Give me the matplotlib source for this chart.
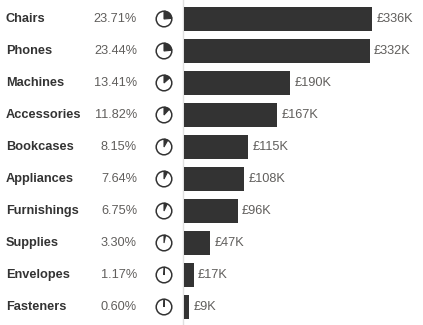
import matplotlib.pyplot as plt
from matplotlib.patches import Wedge, Circle

plt.rcParams['font.family'] = ['Liberation Sans', 'DejaVu Sans']

# data
categories = ['Chairs', 'Phones', 'Machines', 'Accessories', 'Bookcases',
              'Appliances', 'Furnishings', 'Supplies', 'Envelopes', 'Fasteners']
shares = [23.71, 23.44, 13.41, 11.82, 8.15, 7.64, 6.75, 3.30, 1.17, 0.60]
sales_k = [336, 332, 190, 167, 115, 108, 96, 47, 17, 9]

W, H = 423, 325
fig = plt.figure(figsize=(W / 100, H / 100), dpi=100)

# pixel overlay for text and pie icons (y grows downward)
top, pitch = 19, 32
ov = fig.add_axes([0, 0, 1, 1])
ov.set_xlim(0, W)
ov.set_ylim(H, 0)
ov.axis('off')

dark = '#333333'
for i, (cat, s) in enumerate(zip(categories, shares)):
    y = top + i * pitch
    ov.text(6, y, cat, fontsize=9.2, fontweight='bold', color=dark,
            va='center', ha='left')
    ov.text(137, y, f'{s:.2f}%', fontsize=9.2, color='#605e5c',
            va='center', ha='right')
    # pie icon: wedge clockwise from 12 o'clock (angles flipped by inverted y)
    ang = 360 * s / 100
    ov.add_patch(Wedge((164, y), 7.8, 270, 270 + ang, facecolor=dark,
                       edgecolor=dark, linewidth=0.8))
    ov.add_patch(Circle((164, y), 7.8, facecolor='none', edgecolor=dark,
                        linewidth=1.1))
ov.plot([183, 183], [0, H], color='#e0e0e0', linewidth=1)

# bar axes: 336K spans ~188 px
x0 = 184
ax = fig.add_axes([x0 / W, (H - 323) / H, (W - x0) / W, 320 / H])
ax.set_zorder(2)
ax.patch.set_alpha(0)
ax.barh(range(len(categories)), sales_k, height=0.75, color=dark)
ax.set_xlim(0, (W - x0) * 336 / 188)
ax.set_ylim(len(categories) - 0.5, -0.5)
ax.axis('off')
for i, v in enumerate(sales_k):
    ax.annotate(f'£{v}K', (v, i), xytext=(3, 0), textcoords='offset points',
                fontsize=9.2, color='#605e5c', va='center', ha='left')

fig.savefig('out.png', dpi=100)
